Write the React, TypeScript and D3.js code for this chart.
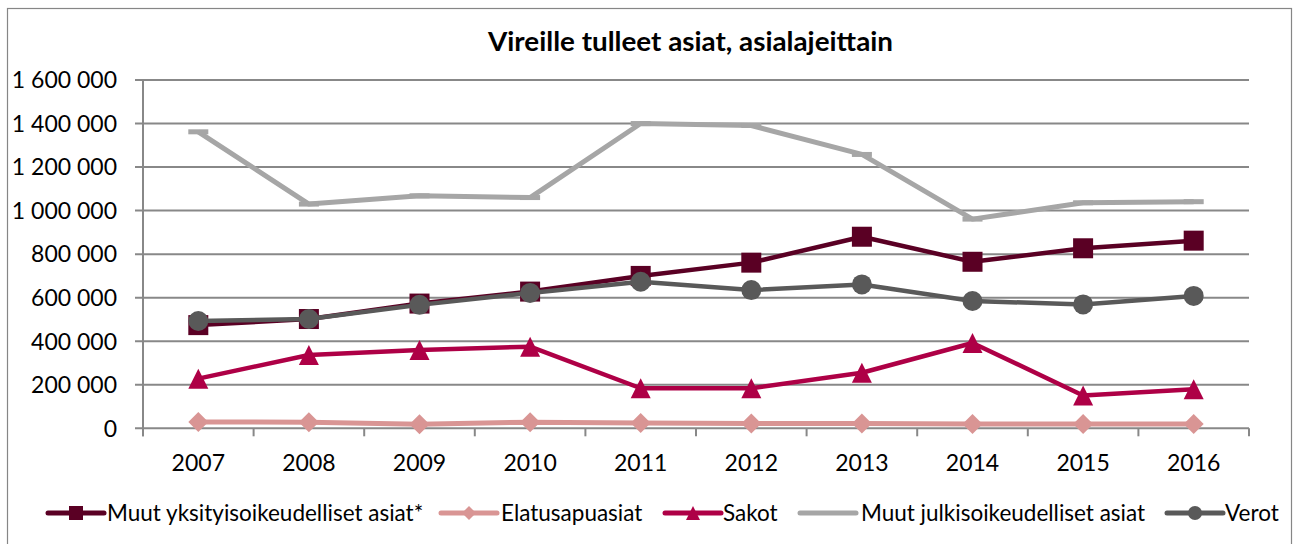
import React from "react";
import * as d3 from "d3";

const years = ["2007", "2008", "2009", "2010", "2011", "2012", "2013", "2014", "2015", "2016"];
const muutYksityis = [474000, 502000, 573000, 628000, 700000, 761000, 880000, 765000, 827000, 862000];
const elatusapu = [29000, 28000, 19000, 28000, 24000, 22000, 22000, 20000, 20000, 20000];
const sakot = [228000, 337000, 360000, 375000, 184000, 184000, 255000, 392000, 151000, 179000];
const muutJulkis = [1362000, 1030000, 1068000, 1060000, 1400000, 1391000, 1258000, 961000, 1036000, 1041000];
const verot = [493000, 502000, 567000, 622000, 673000, 635000, 661000, 585000, 569000, 608000];
const yTicks = [0, 200000, 400000, 600000, 800000, 1000000, 1200000, 1400000, 1600000];

const seriesNames = ["Muut yksityisoikeudelliset asiat*", "Elatusapuasiat", "Sakot", "Muut julkisoikeudelliset asiat", "Verot"];

const W = 1293;
const H = 544;
const left = 143;
const right = 1249;
const top = 80;
const bottom = 428.3;
const FONT = "Lato, 'Open Sans', sans-serif";

type Marker = "square" | "diamond" | "triangle" | "dash" | "circle";

const series: { name: string; values: number[]; color: string; marker: Marker; width: number }[] = [
  { name: seriesNames[0], values: muutYksityis, color: "#5A0024", marker: "square", width: 4.5 },
  { name: seriesNames[1], values: elatusapu, color: "#D99594", marker: "diamond", width: 5 },
  { name: seriesNames[2], values: sakot, color: "#AE0046", marker: "triangle", width: 4.5 },
  { name: seriesNames[3], values: muutJulkis, color: "#A6A6A6", marker: "dash", width: 5 },
  { name: seriesNames[4], values: verot, color: "#595959", marker: "circle", width: 4.5 },
];

function MarkerShape({ type, x, y, color, s }: { type: Marker; x: number; y: number; color: string; s: number }) {
  const h = s / 2;
  if (type === "square") return <rect x={x - h} y={y - h} width={s} height={s} fill={color} />;
  if (type === "circle") return <circle cx={x} cy={y} r={h} fill={color} />;
  if (type === "diamond")
    return <path d={`M${x},${y - h}L${x + h},${y}L${x},${y + h}L${x - h},${y}Z`} fill={color} />;
  if (type === "triangle")
    return <path d={`M${x},${y - h}L${x + h},${y + h}L${x - h},${y + h}Z`} fill={color} />;
  return <rect x={x - 10} y={y - 2.5} width={20} height={5} fill={color} />;
}

export default function App() {
  const x = d3.scaleBand<string>().domain(years).range([left, right]).paddingInner(0).paddingOuter(0);
  const y = d3.scaleLinear().domain([0, 1600000]).range([bottom, top]);
  const cx = (yr: string) => (x(yr) as number) + x.bandwidth() / 2;
  const fmt = (v: number) => d3.format(",")(v).replace(/,/g, " ");
  const line = d3
    .line<number>()
    .x((_, i) => cx(years[i]))
    .y((v) => y(v));

  const boundaries = years.map((yr) => x(yr) as number).concat([right]);

  const legendItems = [
    { lx: 48, tx: 107 },
    { lx: 441, tx: 501 },
    { lx: 665, tx: 723 },
    { lx: 800, tx: 861 },
    { lx: 1167, tx: 1225 },
  ];
  const legendY = 513;

  return (
    <svg width={W} height={H} style={{ position: "absolute", left: 0, top: 0, background: "#fff" }} fontFamily={FONT}>
      <rect x={0} y={0} width={W} height={H} fill="#fff" />
      <rect x={7.5} y={8.5} width={1284} height={545} fill="#fff" stroke="#868686" strokeWidth={1.2} />
      <text x={488} y={51} textLength={405} lengthAdjust="spacingAndGlyphs" fontWeight="bold" fontSize={26} fill="#000">
        Vireille tulleet asiat, asialajeittain
      </text>
      {yTicks.map((t) => (
        <g key={t}>
          <line x1={135} x2={right} y1={y(t)} y2={y(t)} stroke="#888" strokeWidth={2} />
          <text x={117} y={y(t)} dy="0.36em" textAnchor="end" fontSize={23} fill="#000">
            {fmt(t)}
          </text>
        </g>
      ))}
      <line x1={left} x2={left} y1={top} y2={bottom + 8} stroke="#888" strokeWidth={2} />
      {boundaries.map((b, i) => (
        <line key={i} x1={b} x2={b} y1={bottom} y2={bottom + 8} stroke="#888" strokeWidth={2} />
      ))}
      {years.map((yr) => (
        <text key={yr} x={cx(yr)} y={471} textAnchor="middle" fontSize={23} fill="#000">
          {yr}
        </text>
      ))}
      {series.map((s) => (
        <g key={s.name}>
          <path d={line(s.values) || ""} fill="none" stroke={s.color} strokeWidth={s.width} strokeLinejoin="round" />
          {s.values.map((v, i) => (
            <MarkerShape key={i} type={s.marker} x={cx(years[i])} y={y(v)} color={s.color} s={20} />
          ))}
        </g>
      ))}
      {series.map((s, i) => {
        const it = legendItems[i];
        const mid = it.lx + 28;
        return (
          <g key={s.name}>
            <line x1={it.lx} x2={it.lx + 56} y1={legendY} y2={legendY} stroke={s.color} strokeWidth={5} strokeLinecap="round" />
            {s.marker !== "dash" && <MarkerShape type={s.marker} x={mid} y={legendY} color={s.color} s={14} />}
            <text x={it.tx} y={legendY} dy="0.36em" fontSize={22.5} fill="#000">
              {s.name}
            </text>
          </g>
        );
      })}
    </svg>
  );
}
